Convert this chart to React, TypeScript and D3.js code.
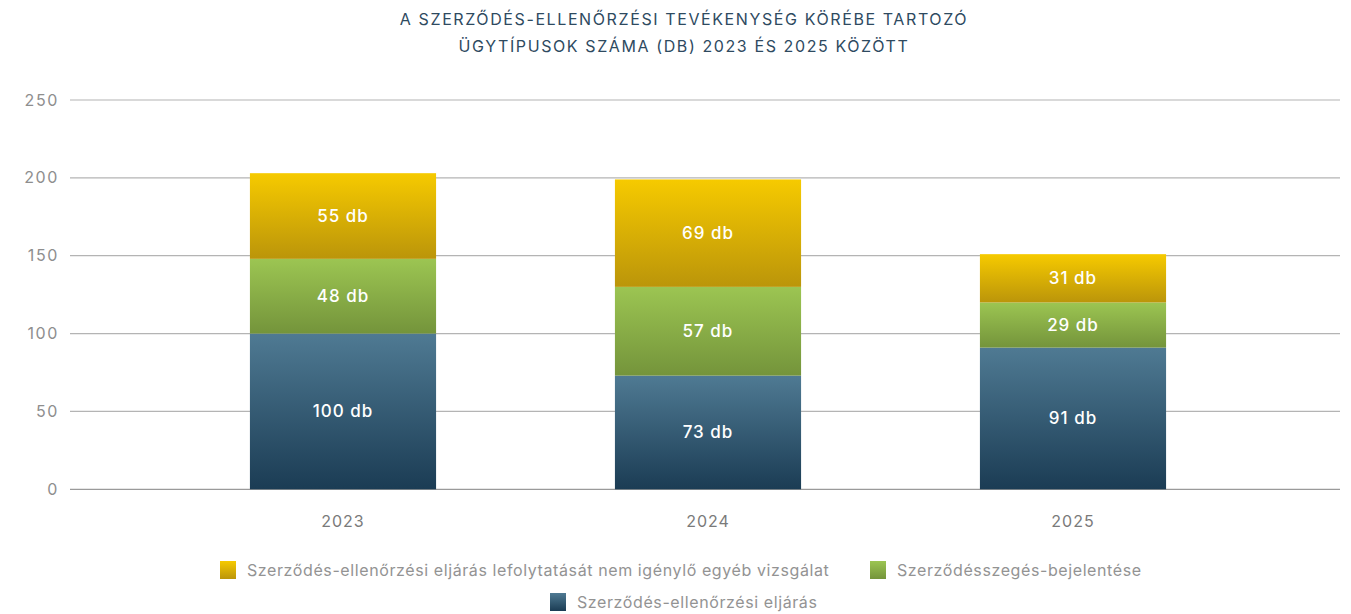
import React from "react";
import * as d3 from "d3";

const years = ["2023", "2024", "2025"];
const eljaras = [100, 73, 91];
const bejelentes = [48, 57, 29];
const egyeb = [55, 69, 31];
const yTicks = [0, 50, 100, 150, 200, 250];
const titleLines = [
  "A SZERZŐDÉS-ELLENŐRZÉSI TEVÉKENYSÉG KÖRÉBE TARTOZÓ",
  "ÜGYTÍPUSOK SZÁMA (DB) 2023 ÉS 2025 KÖZÖTT",
];
const seriesNames = [
  "Szerződés-ellenőrzési eljárás",
  "Szerződésszegés-bejelentése",
  "Szerződés-ellenőrzési eljárás lefolytatását nem igénylő egyéb vizsgálat",
];

const W = 1351;
const H = 614;
const font = "Inter, 'Noto Sans', sans-serif";

const grads = [
  { id: "gBlue", top: "#4f7a93", bottom: "#1b3c54" },
  { id: "gGreen", top: "#9cc552", bottom: "#74943b" },
  { id: "gYellow", top: "#f6ca00", bottom: "#bb950a" },
];

export default function App() {
  const x = d3
    .scaleBand<string>()
    .domain(years)
    .range([160.5, 1255.5])
    .paddingInner(0.49)
    .paddingOuter(0.245);
  const y = d3.scaleLinear().domain([0, 250]).range([489.3, 100]);

  const data = years.map((yr, i) => ({
    year: yr,
    s0: eljaras[i],
    s1: bejelentes[i],
    s2: egyeb[i],
  }));
  const stack = d3.stack<any>().keys(["s0", "s1", "s2"])(data);

  const legendItems = [
    { name: seriesNames[2], g: "gYellow", x: 220, y: 570 },
    { name: seriesNames[1], g: "gGreen", x: 870, y: 570 },
    { name: seriesNames[0], g: "gBlue", x: 550, y: 602 },
  ];

  return (
    <svg width={W} height={H} style={{ position: "absolute", left: 0, top: 0 }}>
      <defs>
        {grads.map((g) => (
          <linearGradient key={g.id} id={g.id} x1="0" y1="0" x2="0" y2="1">
            <stop offset="0" stopColor={g.top} />
            <stop offset="1" stopColor={g.bottom} />
          </linearGradient>
        ))}
      </defs>
      <rect width={W} height={H} fill="#fff" />
      {titleLines.map((t, i) => (
        <text
          key={i}
          x={684}
          y={19 + i * 27}
          dy="0.35em"
          textAnchor="middle"
          fontFamily={font}
          fontSize={16}
          fontWeight={400}
          letterSpacing={1.6}
          fill="#2e4a5f"
        >
          {t}
        </text>
      ))}
      {yTicks.map((t) => (
        <g key={t}>
          <line
            x1={70}
            x2={1340}
            y1={y(t)}
            y2={y(t)}
            stroke={t === 0 ? "#9a9a9a" : "#b4b4b4"}
            strokeWidth={1.2}
          />
          <text
            x={59}
            y={y(t)}
            dy="0.35em"
            textAnchor="end"
            fontFamily={font}
            fontSize={16}
            letterSpacing={1.6}
            fill="#8e8e8e"
          >
            {t}
          </text>
        </g>
      ))}
      {stack.map((layer, li) =>
        layer.map((d, i) => {
          const y0 = y(d[0]);
          const y1 = y(d[1]);
          const val = d[1] - d[0];
          return (
            <g key={li + "-" + i}>
              <rect
                x={x(years[i])}
                y={y1}
                width={x.bandwidth()}
                height={y0 - y1}
                fill={`url(#${grads[li].id})`}
              />
              <text
                x={(x(years[i]) as number) + x.bandwidth() / 2}
                y={(y0 + y1) / 2}
                dy="0.35em"
                textAnchor="middle"
                fontFamily={font}
                fontSize={17}
                fontWeight={500}
                letterSpacing={1}
                fill="#ffffff"
              >
                {val} db
              </text>
            </g>
          );
        })
      )}
      {years.map((yr) => (
        <text
          key={yr}
          x={(x(yr) as number) + x.bandwidth() / 2}
          y={521}
          dy="0.35em"
          textAnchor="middle"
          fontFamily={font}
          fontSize={16}
          letterSpacing={1}
          fill="#7a7a7a"
        >
          {yr}
        </text>
      ))}
      {legendItems.map((l) => (
        <g key={l.name}>
          <rect x={l.x} y={l.y - 9} width={16} height={18} fill={`url(#${l.g})`} />
          <text
            x={l.x + 27}
            y={l.y}
            dy="0.35em"
            fontFamily={font}
            fontSize={16}
            letterSpacing={0.6}
            fill="#939393"
          >
            {l.name}
          </text>
        </g>
      ))}
    </svg>
  );
}
